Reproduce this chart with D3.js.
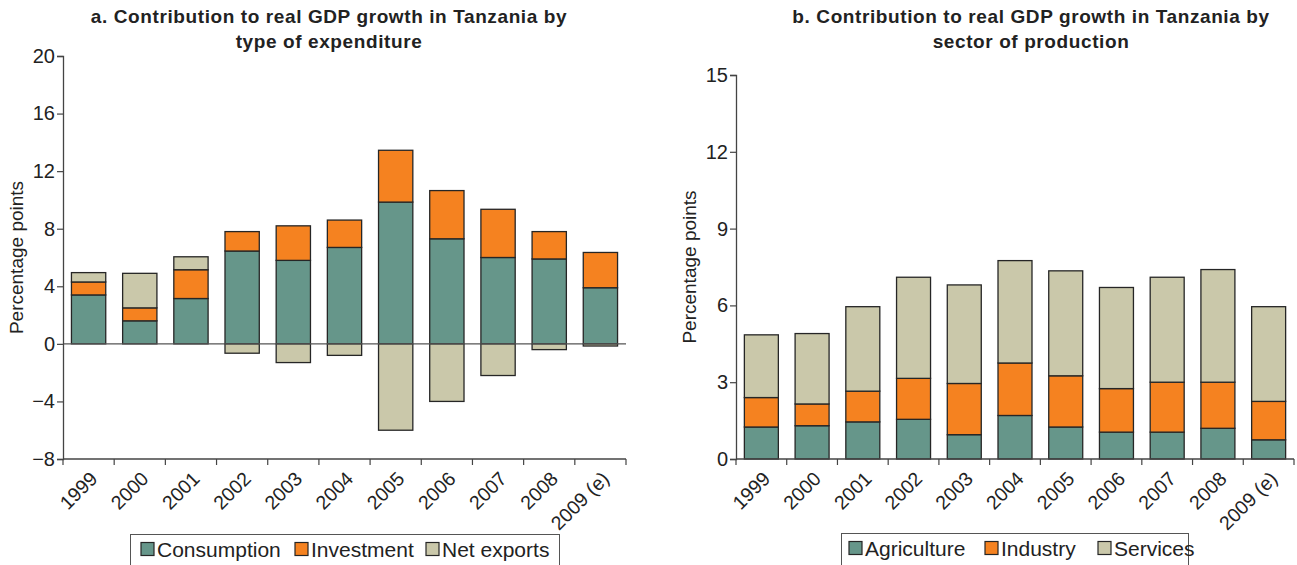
<!DOCTYPE html>
<html>
<head>
<meta charset="utf-8">
<script src="https://cdn.jsdelivr.net/npm/d3@7"></script>
<style>
  html, body { margin: 0; padding: 0; background: #fff; }
  svg { display: block; font-family: "Liberation Sans", Arial, Helvetica, sans-serif; }
</style>
</head>
<body>
<svg id="chart" width="1297" height="565"></svg>
<script>
// ---------- DATA ----------
const years = ["1999", "2000", "2001", "2002", "2003", "2004", "2005", "2006", "2007", "2008", "2009 (e)"];

// Panel a: contribution by type of expenditure (percentage points)
const consumption = [3.4, 1.6, 3.15, 6.45, 5.8, 6.7, 9.85, 7.3, 6.0, 5.9, 3.9];
const investment  = [0.9, 0.9, 2.0, 1.35, 2.4, 1.9, 3.6, 3.35, 3.35, 1.9, 2.45];
const netExports  = [0.65, 2.4, 0.9, -0.65, -1.3, -0.8, -6.0, -4.0, -2.2, -0.4, -0.15];

// Panel b: contribution by sector of production (percentage points)
const agriculture = [1.25, 1.3, 1.45, 1.55, 0.95, 1.7, 1.25, 1.05, 1.05, 1.2, 0.75];
const industry    = [1.15, 0.85, 1.2, 1.6, 2.0, 2.05, 2.0, 1.7, 1.95, 1.8, 1.5];
const services    = [2.45, 2.75, 3.3, 3.95, 3.85, 4.0, 4.1, 3.95, 4.1, 4.4, 3.7];

const ticksA = [-8, -4, 0, 4, 8, 12, 16, 20];
const ticksB = [0, 3, 6, 9, 12, 15];

const seriesA = ["Consumption", "Investment", "Net exports"];
const seriesB = ["Agriculture", "Industry", "Services"];
const colors = ["#66968a", "#f58220", "#cac8aa"];

// ---------- DRAW ----------
const svg = d3.select("#chart");
const fmt = d => d < 0 ? "\u2212" + Math.abs(d) : String(d);

function panel(opts) {
  const { names, values, ticks, yDomain, xRange, yRange, title, titleX, legendBox, legendItems } = opts;
  const g = svg.append("g");
  const rows = years.map((yr, i) => {
    const r = { year: yr };
    names.forEach((n, k) => r[n] = values[k][i]);
    return r;
  });
  const stack = d3.stack().keys(names).offset(d3.stackOffsetDiverging)(rows);

  const x = d3.scaleBand().domain(years).range(xRange).paddingInner(0.33).paddingOuter(0.165);
  const y = d3.scaleLinear().domain(yDomain).range(yRange);

  // bars
  stack.forEach((layer, k) => {
    g.append("g").selectAll("rect").data(layer).join("rect")
      .attr("x", d => x(d.data.year))
      .attr("width", x.bandwidth())
      .attr("y", d => y(Math.max(d[0], d[1])))
      .attr("height", d => Math.abs(y(d[0]) - y(d[1])))
      .attr("fill", colors[k])
      .attr("stroke", "#262626")
      .attr("stroke-width", 1.3);
  });

  // zero line (if domain crosses zero)
  if (yDomain[0] < 0) {
    g.append("line")
      .attr("x1", xRange[0]).attr("x2", xRange[1])
      .attr("y1", y(0)).attr("y2", y(0))
      .attr("stroke", "#555").attr("stroke-width", 1.3);
  }

  // y axis
  const ya = g.append("g").attr("transform", `translate(${xRange[0]},0)`)
    .call(d3.axisLeft(y).tickValues(ticks).tickSize(6).tickPadding(2).tickFormat(fmt));
  ya.select(".domain").attr("stroke", "#444").attr("stroke-width", 1.3);
  ya.selectAll(".tick line").attr("stroke", "#444").attr("stroke-width", 1.2);
  ya.selectAll(".tick text").attr("font-size", 20).attr("fill", "#222")
    .attr("font-family", "Liberation Sans, Arial, sans-serif");

  // x axis: baseline + boundary ticks + rotated labels
  const xa = g.append("g").attr("transform", `translate(0,${yRange[0]})`)
    .call(d3.axisBottom(x).tickSize(0).tickFormat(d => d));
  xa.select(".domain").remove();
  xa.selectAll(".tick text")
    .attr("font-size", 19.5).attr("fill", "#222")
    .attr("font-family", "Liberation Sans, Arial, sans-serif")
    .attr("text-anchor", "end")
    .attr("dy", 0)
    .attr("y", 0)
    .attr("transform", "translate(10,21) rotate(-45)");
  g.append("line")
    .attr("x1", xRange[0]).attr("x2", xRange[1])
    .attr("y1", yRange[0]).attr("y2", yRange[0])
    .attr("stroke", "#444").attr("stroke-width", 1.3);
  const bounds = years.map(yr => x(yr) - x.step() * x.paddingInner() / 2).concat([xRange[1]]);
  g.append("g").selectAll("line").data(bounds).join("line")
    .attr("x1", d => d).attr("x2", d => d)
    .attr("y1", yRange[0]).attr("y2", yRange[0] + 6)
    .attr("stroke", "#444").attr("stroke-width", 1.2);

  // y axis label
  g.append("text")
    .attr("transform", `translate(${opts.labelX},${(yRange[0] + yRange[1]) / 2}) rotate(-90)`)
    .attr("text-anchor", "middle")
    .attr("font-size", 19).attr("fill", "#222")
    .text("Percentage points");

  // title
  const t = g.append("text").attr("text-anchor", "middle").attr("font-weight", "bold")
    .attr("font-size", 19).attr("letter-spacing", 0.6).attr("fill", "#222");
  t.append("tspan").attr("x", titleX).attr("y", 23).text(title[0]);
  t.append("tspan").attr("x", titleX).attr("y", 48).text(title[1]);

  // legend
  g.append("rect")
    .attr("x", legendBox[0]).attr("y", legendBox[1])
    .attr("width", legendBox[2]).attr("height", 40)
    .attr("fill", "none").attr("stroke", "#555").attr("stroke-width", 1);
  names.forEach((n, k) => {
    g.append("rect")
      .attr("x", legendItems[k]).attr("y", legendBox[1] + 8)
      .attr("width", 13).attr("height", 13)
      .attr("fill", colors[k]).attr("stroke", "#262626").attr("stroke-width", 1.2);
    g.append("text")
      .attr("x", legendItems[k] + 16).attr("y", legendBox[1] + 22)
      .attr("font-size", 21).attr("fill", "#222")
      .text(n);
  });
}

panel({
  names: seriesA,
  values: [consumption, investment, netExports],
  ticks: ticksA,
  yDomain: [-8, 20],
  xRange: [63, 626],
  yRange: [459, 56],
  labelX: 23,
  title: ["a. Contribution to real GDP growth in Tanzania by", "type of expenditure"],
  titleX: 329,
  legendBox: [130.5, 534.5, 429],
  legendItems: [141, 295, 426]
});

panel({
  names: seriesB,
  values: [agriculture, industry, services],
  ticks: ticksB,
  yDomain: [0, 15],
  xRange: [736, 1294],
  yRange: [459, 75],
  labelX: 696,
  title: ["b. Contribution to real GDP growth in Tanzania by", "sector of production"],
  titleX: 1031,
  legendBox: [841.5, 533.5, 347],
  legendItems: [849, 985, 1098]
});
</script>
</body>
</html>
